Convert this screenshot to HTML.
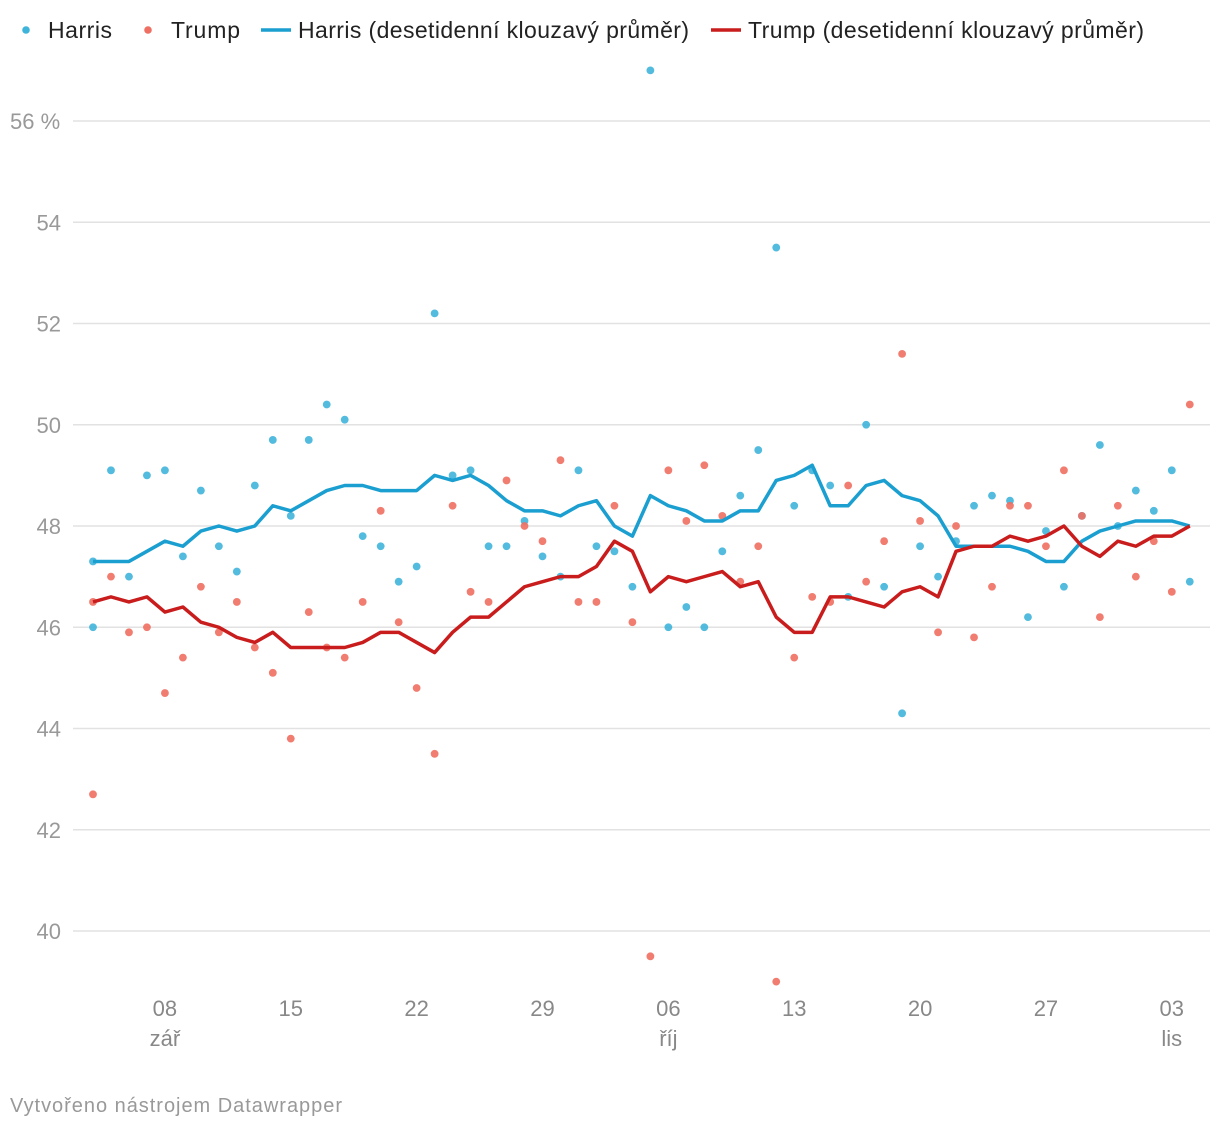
<!DOCTYPE html>
<html><head><meta charset="utf-8"><style>
body{margin:0;background:#fff;font-family:"Liberation Sans",sans-serif;}
svg{display:block}
</style></head><body>
<svg id="c" width="1220" height="1128">
<g font-size="23" fill="#222">
<circle cx="26" cy="30" r="3.8" fill="#3fb4da"/>
<text x="48" y="38" textLength="64">Harris</text>
<circle cx="148" cy="30" r="3.8" fill="#ef6f62"/>
<text x="171" y="38" textLength="69">Trump</text>
<line x1="261" y1="30" x2="291" y2="30" stroke="#1a9fd0" stroke-width="3.5"/>
<text x="298" y="38" textLength="391">Harris (desetidenní klouzavý průměr)</text>
<line x1="711" y1="30" x2="741" y2="30" stroke="#c91c1c" stroke-width="3.5"/>
<text x="748" y="38" textLength="396">Trump (desetidenní klouzavý průměr)</text>
</g>
<g id="grid"></g><g id="xax"></g><g id="marks"></g>
<text x="10" y="1112" font-size="20" fill="#999" textLength="332">Vytvořeno nástrojem Datawrapper</text>
</svg>
<script>
const yTicks=[56,54,52,50,48,46,44,42,40];
const xTickDays=[4,11,18,25,32,39,46,53,60];
const xTickLabels=["08","15","22","29","06","13","20","27","03"];
const xTickSub=["zář","","","","říj","","","","lis"];
const harrisDays=[0,0,1,2,3,4,5,6,7,8,9,10,11,12,13,14,15,16,17,18,19,20,21,22,23,24,25,26,27,28,29,30,31,32,33,34,35,36,37,38,39,40,41,42,43,44,45,46,47,48,49,50,51,52,53,54,55,56,57,58,59,60,61];
const harrisVals=[47.3,46.0,49.1,47.0,49.0,49.1,47.4,48.7,47.6,47.1,48.8,49.7,48.2,49.7,50.4,50.1,47.8,47.6,46.9,47.2,52.2,49.0,49.1,47.6,47.6,48.1,47.4,47.0,49.1,47.6,47.5,46.8,57.0,46.0,46.4,46.0,47.5,48.6,49.5,53.5,48.4,49.1,48.8,46.6,50.0,46.8,44.3,47.6,47.0,47.7,48.4,48.6,48.5,46.2,47.9,46.8,48.2,49.6,48.0,48.7,48.3,49.1,46.9];
const trumpDays=harrisDays;
const trumpVals=[46.5,42.7,47.0,45.9,46.0,44.7,45.4,46.8,45.9,46.5,45.6,45.1,43.8,46.3,45.6,45.4,46.5,48.3,46.1,44.8,43.5,48.4,46.7,46.5,48.9,48.0,47.7,49.3,46.5,46.5,48.4,46.1,39.5,49.1,48.1,49.2,48.2,46.9,47.6,39.0,45.4,46.6,46.5,48.8,46.9,47.7,51.4,48.1,45.9,48.0,45.8,46.8,48.4,48.4,47.6,49.1,48.2,46.2,48.4,47.0,47.7,46.7,50.4];
const harrisAvg=[47.3,47.3,47.3,47.5,47.7,47.6,47.9,48.0,47.9,48.0,48.4,48.3,48.5,48.7,48.8,48.8,48.7,48.7,48.7,49.0,48.9,49.0,48.8,48.5,48.3,48.3,48.2,48.4,48.5,48.0,47.8,48.6,48.4,48.3,48.1,48.1,48.3,48.3,48.9,49.0,49.2,48.4,48.4,48.8,48.9,48.6,48.5,48.2,47.6,47.6,47.6,47.6,47.5,47.3,47.3,47.7,47.9,48.0,48.1,48.1,48.1,48.0];
const trumpAvg=[46.5,46.6,46.5,46.6,46.3,46.4,46.1,46.0,45.8,45.7,45.9,45.6,45.6,45.6,45.6,45.7,45.9,45.9,45.7,45.5,45.9,46.2,46.2,46.5,46.8,46.9,47.0,47.0,47.2,47.7,47.5,46.7,47.0,46.9,47.0,47.1,46.8,46.9,46.2,45.9,45.9,46.6,46.6,46.5,46.4,46.7,46.8,46.6,47.5,47.6,47.6,47.8,47.7,47.8,48.0,47.6,47.4,47.7,47.6,47.8,47.8,48.0];
const NS="http://www.w3.org/2000/svg";
const X=d=>93+d*17.98, Y=v=>121+(56-v)*50.625;
function mk(t,p,a){const e=document.createElementNS(NS,t);for(const k in a)e.setAttribute(k,a[k]);p.appendChild(e);return e;}
const grid=document.getElementById('grid'),xax=document.getElementById('xax'),marks=document.getElementById('marks');
yTicks.forEach((v,i)=>{
 const l=mk('line',grid,{x1:73,x2:1210,y1:Y(v),y2:Y(v),stroke:'#e2e2e2','stroke-width':1.5});
 
 
 const t=mk('text',grid,{x:i==0?10:61,y:Y(v)+8,'font-size':22,fill:'#999','text-anchor':i==0?'start':'end'});
 t.textContent=i==0?v+' %':v;
 
 
});
xTickDays.forEach((d,i)=>{
 const t=mk('text',xax,{x:X(d),y:1016,'font-size':22,fill:'#888','text-anchor':'middle'});
 t.textContent=xTickLabels[i];
 
 
 if(xTickSub[i]){const s=mk('text',xax,{x:X(d),y:1046,'font-size':22,fill:'#888','text-anchor':'middle'});s.textContent=xTickSub[i];
 
 }
});
harrisDays.forEach((d,i)=>{const c=mk('circle',marks,{cx:X(d),cy:Y(harrisVals[i]),r:3.9,fill:'#3fb4da','fill-opacity':0.9});
 
 });
trumpDays.forEach((d,i)=>{const c=mk('circle',marks,{cx:X(d),cy:Y(trumpVals[i]),r:3.9,fill:'#ef6f62','fill-opacity':0.9});
 
 });
function line(arr,col,name){const p=mk('polyline',marks,{points:arr.map((v,i)=>X(i)+','+Y(v)).join(' '),fill:'none',stroke:col,'stroke-width':3.5,'stroke-linejoin':'round'});
 
 }
line(harrisAvg,'#1a9fd0','harris-moving-average');
line(trumpAvg,'#c91c1c','trump-moving-average');
</script>
</body></html>
